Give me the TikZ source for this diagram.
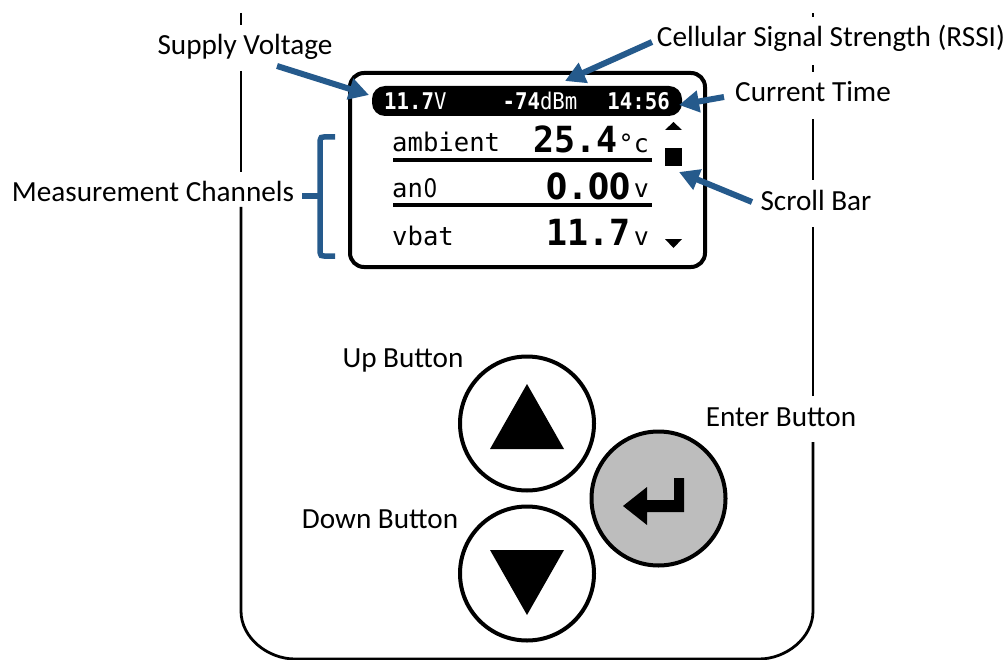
\documentclass[tikz,border=0pt]{standalone}
\usepackage{fontspec}
\setmainfont{Carlito}
\newfontfamily\lcd{DejaVu Sans Mono}
\newfontfamily\lcdb[FakeStretch=0.97]{DejaVu Sans Mono}
\newfontfamily\lcdt[FakeStretch=0.90]{DejaVu Sans Mono}
\newfontfamily\lcdz[FakeStretch=0.84]{DejaVu Sans}
\newcommand{\plainzero}{\makebox[0.585em][c]{\lcdz 0}}
\definecolor{callout}{HTML}{255A8C}
\definecolor{entergray}{HTML}{BDBDBD}
\usetikzlibrary{arrows.meta}
\tikzset{
  x=1pt,y=-1pt,
  lab/.style={font=\fontsize{29.2}{31}\selectfont,inner sep=0pt,anchor=base},
  body/.style={line width=2.8pt,black},
  ptr/.style={line width=6pt,callout,-{Triangle[length=20pt,width=21pt]}},
  btn/.style={circle,draw=black,line width=4pt,minimum size=134pt,inner sep=0pt},
  small/.style={font=\lcd\fontsize{25.6}{27}\selectfont,inner sep=0pt,anchor=base west},
  big/.style={font=\lcdb\bfseries\fontsize{36}{38}\selectfont,inner sep=0pt,anchor=base east},
  unit/.style={font=\lcd\fontsize{25}{27}\selectfont,inner sep=0pt,anchor=base east},
  bar/.style={font=\lcdt\fontsize{23}{25}\selectfont,inner sep=0pt,anchor=base,text=white},
}
\begin{document}
\begin{tikzpicture}
\useasboundingbox (0,0) rectangle (1008,660);
% housing
\coordinate (lt1) at (241,13); \coordinate (lt2) at (241,25);
\coordinate (lt3) at (241,71); \coordinate (lt4) at (241,172);
\coordinate (lt5) at (241,207);
\draw[body] (lt1) -- (lt2);
\draw[body] (lt3) -- (lt4);
\draw[body] (lt5) -- (241,611) .. controls (241,638) and (268,659) .. (295,659) -- (759,659) .. controls (786,659) and (813,638) .. (813,611) -- (813,442);
\coordinate (rt1) at (813,396); \coordinate (rt2) at (813,227);
\coordinate (rt3) at (813,180); \coordinate (rt4) at (813,119);
\coordinate (rt5) at (813,72); \coordinate (rt6) at (813,65);
\coordinate (rt7) at (813,17); \coordinate (rt8) at (813,13);
\draw[body] (rt1) -- (rt2);
\draw[body] (rt3) -- (rt4);
\draw[body] (rt5) -- (rt6);
\draw[body] (rt7) -- (rt8);
% screen
\node[draw=black,line width=4pt,fill=white,rounded corners=14pt,minimum width=355pt,minimum height=194pt,inner sep=0pt] (screen) at (527.5,170) {};
\node[fill=black,rounded corners=13pt,minimum width=310pt,minimum height=30pt,inner sep=0pt] (sbar) at (527,101) {};
\node[bar,anchor=base west] (v) at (384,110) {{\bfseries 11.7}V};
\node[bar] (rssi) at (540,110) {{\bfseries -74}dBm};
\node[bar,anchor=base east] (tm) at (670,110) {\bfseries 14:56};
% channels
\node[small] (c1) at (392,152) {ambient};
\node[small] (c2) at (392,198) {an\plainzero};
\node[small] (c3) at (392,245) {vbat};
\node[big] (v1) at (618,153) {25.4};
\node[big] (v2) at (631,200) {\plainzero.\plainzero\plainzero};
\node[big] (v3) at (631,245) {11.7};
\node[unit] (u1) at (649,153) {°c};
\node[unit] (u2) at (649,198) {v};
\node[unit] (u3) at (649,245) {v};
\coordinate (r1a) at (393,160); \coordinate (r1b) at (652,160);
\coordinate (r2a) at (393,205); \coordinate (r2b) at (652,205);
\draw[line width=3.8pt] (r1a) -- (r1b);
\draw[line width=3.8pt] (r2a) -- (r2b);
% scroll
\fill (665,130) -- (673.5,122) -- (682,130) -- cycle;
\fill (665,239) -- (682,239) -- (673.5,248) -- cycle;
\node[fill=black,minimum width=17pt,minimum height=18pt,inner sep=0pt] (thumb) at (673.5,157) {};
% buttons
\node[btn] (up) at (527,423.5) {};
\node[btn] (down) at (527,573.5) {};
\node[btn,fill=entergray] (enter) at (658.5,498.5) {};
\fill (527,384) -- (564,449) -- (490,449) -- cycle;
\fill (527,615) -- (564,550) -- (490,550) -- cycle;
\fill (623,506) -- (647,487) -- (647,500) -- (674,500) -- (674,478) -- (684,478) -- (684,512) -- (647,512) -- (647,525) -- cycle;
% labels
\node[lab] (l1) at (245,55) {Supply Voltage};
\node[lab] (l2) at (831,47) {Cellular Signal Strength (RSSI)};
\node[lab] (l3) at (813,101.5) {Current Time};
\node[lab] (l4) at (153,202) {Measurement Channels};
\node[lab] (l5) at (816,211) {Scroll Bar};
\node[lab] (l6) at (403,367) {Up Button};
\node[lab] (l7) at (380,528) {Down Button};
\node[lab] (l8) at (781,426) {Enter Button};
% pointers
\coordinate (a1) at (277,66); \coordinate (a1e) at (369,95);
\coordinate (a2) at (652,42); \coordinate (a2e) at (565,81);
\coordinate (a3) at (724,97); \coordinate (a3e) at (679,105);
\coordinate (a4) at (752,202); \coordinate (a4e) at (679,172);
\draw[ptr] (a1) -- (a1e);
\draw[ptr] (a2) -- (a2e);
\draw[ptr] (a3) -- (a3e);
\draw[ptr] (a4) -- (a4e);
% bracket
\coordinate (b1) at (335,137); \coordinate (b2) at (335,256);
\coordinate (b3) at (302,196.5); \coordinate (b4) at (320,196.5);
\draw[callout,line width=5.5pt] (b1) -- (324,137) .. controls (321,137) .. (320,141) -- (320,252) .. controls (321,256) .. (324,256) -- (b2);
\draw[callout,line width=6pt] (b3) -- (b4);
\end{tikzpicture}
\end{document}
